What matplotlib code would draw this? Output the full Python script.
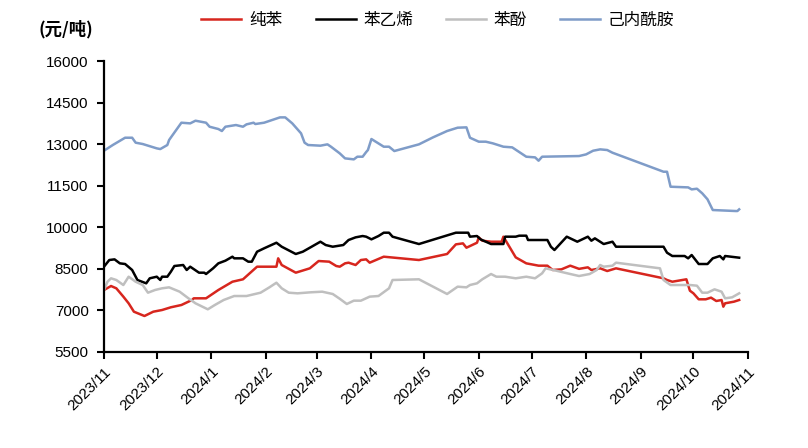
import numpy as np
import pandas as pd
import matplotlib
matplotlib.use('Agg')
import matplotlib.pyplot as plt
import matplotlib.dates as mdates

plt.rcParams['font.family'] = ['Liberation Sans', 'Noto Sans CJK SC', 'DejaVu Sans']

# Data (元/吨)
benzene_dates = ['2023-11-01', '2023-11-05', '2023-11-08', '2023-11-12', '2023-11-15', '2023-11-18',
                 '2023-11-24', '2023-11-29', '2023-12-04', '2023-12-09', '2023-12-15', '2023-12-21',
                 '2023-12-22', '2023-12-29', '2024-01-05', '2024-01-13', '2024-01-19', '2024-01-27',
                 '2024-02-07', '2024-02-08', '2024-02-10', '2024-02-18', '2024-02-26', '2024-03-02',
                 '2024-03-08', '2024-03-12', '2024-03-14', '2024-03-17', '2024-03-19', '2024-03-23',
                 '2024-03-26', '2024-03-29', '2024-03-31', '2024-04-08', '2024-04-28', '2024-05-14',
                 '2024-05-19', '2024-05-23', '2024-05-25', '2024-05-31', '2024-06-01', '2024-06-03',
                 '2024-06-08', '2024-06-14', '2024-06-15', '2024-06-22', '2024-06-28', '2024-07-05',
                 '2024-07-10', '2024-07-13', '2024-07-18', '2024-07-23', '2024-07-28', '2024-08-02',
                 '2024-08-04', '2024-08-09', '2024-08-13', '2024-08-18', '2024-09-14', '2024-09-16',
                 '2024-09-19', '2024-09-27', '2024-09-29', '2024-10-01', '2024-10-04', '2024-10-08',
                 '2024-10-11', '2024-10-14', '2024-10-17', '2024-10-18', '2024-10-19', '2024-10-24',
                 '2024-10-27']
benzene = [7737, 7881, 7798, 7497, 7257, 6954,
           6799, 6954, 7015, 7113, 7196, 7376,
           7437, 7437, 7737, 8036, 8123, 8578,
           8578, 8880, 8639, 8362, 8519, 8783,
           8759, 8603, 8578, 8699, 8723, 8639,
           8819, 8843, 8723, 8939, 8819, 9036,
           9384, 9420, 9263, 9443, 9637, 9516,
           9480, 9480, 9661, 8915, 8699, 8615,
           8615, 8459, 8483, 8615, 8500, 8555,
           8459, 8519, 8422, 8519, 8159, 8098,
           8036, 8123, 7712, 7617, 7401, 7401,
           7461, 7340, 7376, 7135, 7257, 7315,
           7376]

styrene_dates = ['2023-11-01', '2023-11-04', '2023-11-07', '2023-11-10', '2023-11-13', '2023-11-17',
                 '2023-11-20', '2023-11-25', '2023-11-27', '2023-12-01', '2023-12-03', '2023-12-04',
                 '2023-12-07', '2023-12-09', '2023-12-11', '2023-12-16', '2023-12-18', '2023-12-20',
                 '2023-12-25', '2023-12-28', '2023-12-29', '2024-01-02', '2024-01-05', '2024-01-09',
                 '2024-01-13', '2024-01-14', '2024-01-19', '2024-01-22', '2024-01-24', '2024-01-27',
                 '2024-01-31', '2024-02-07', '2024-02-10', '2024-02-18', '2024-02-22', '2024-02-27',
                 '2024-03-03', '2024-03-06', '2024-03-10', '2024-03-16', '2024-03-19', '2024-03-23',
                 '2024-03-27', '2024-03-29', '2024-04-01', '2024-04-05', '2024-04-08', '2024-04-11',
                 '2024-04-13', '2024-04-28', '2024-05-19', '2024-05-26', '2024-05-27', '2024-05-31',
                 '2024-06-02', '2024-06-08', '2024-06-15', '2024-06-16', '2024-06-22', '2024-06-24',
                 '2024-06-28', '2024-06-29', '2024-07-10', '2024-07-12', '2024-07-14', '2024-07-21',
                 '2024-07-27', '2024-08-02', '2024-08-04', '2024-08-06', '2024-08-11', '2024-08-16',
                 '2024-08-18', '2024-09-14', '2024-09-16', '2024-09-19', '2024-09-26', '2024-09-28',
                 '2024-09-30', '2024-10-04', '2024-10-09', '2024-10-12', '2024-10-16', '2024-10-18',
                 '2024-10-19', '2024-10-27']
styrene = [8578, 8819, 8843, 8699, 8675, 8459,
           8098, 7978, 8159, 8217, 8098, 8217,
           8217, 8397, 8603, 8639, 8459, 8578,
           8362, 8362, 8314, 8519, 8699, 8795,
           8939, 8880, 8880, 8759, 8759, 9119,
           9241, 9443, 9299, 9036, 9119, 9299,
           9480, 9360, 9299, 9360, 9541, 9637,
           9685, 9661, 9565, 9685, 9805, 9805,
           9661, 9396, 9805, 9805, 9661, 9685,
           9565, 9396, 9396, 9661, 9661, 9697,
           9697, 9541, 9541, 9299, 9180, 9661,
           9480, 9661, 9516, 9601, 9396, 9480,
           9299, 9299, 9083, 8964, 8964, 8880,
           9000, 8675, 8675, 8880, 8964, 8843,
           8964, 8903]

phenol_dates = ['2023-11-01', '2023-11-03', '2023-11-05', '2023-11-08', '2023-11-12', '2023-11-15',
                '2023-11-19', '2023-11-23', '2023-11-26', '2023-11-30', '2023-12-04', '2023-12-08',
                '2023-12-14', '2023-12-19', '2023-12-23', '2023-12-30', '2024-01-03', '2024-01-08',
                '2024-01-14', '2024-01-21', '2024-01-29', '2024-02-03', '2024-02-07', '2024-02-10',
                '2024-02-14', '2024-02-19', '2024-02-26', '2024-03-04', '2024-03-10', '2024-03-14',
                '2024-03-18', '2024-03-22', '2024-03-26', '2024-03-31', '2024-04-05', '2024-04-11',
                '2024-04-13', '2024-04-28', '2024-05-14', '2024-05-20', '2024-05-25', '2024-05-27',
                '2024-05-31', '2024-06-03', '2024-06-08', '2024-06-11', '2024-06-16', '2024-06-22',
                '2024-06-28', '2024-07-03', '2024-07-07', '2024-07-09', '2024-07-15', '2024-07-23',
                '2024-07-28', '2024-08-03', '2024-08-07', '2024-08-09', '2024-08-11', '2024-08-16',
                '2024-08-18', '2024-09-12', '2024-09-14', '2024-09-18', '2024-09-29', '2024-10-03',
                '2024-10-06', '2024-10-09', '2024-10-13', '2024-10-17', '2024-10-19', '2024-10-23',
                '2024-10-27']
phenol = [7737, 8036, 8159, 8098, 7917, 8217,
          8036, 7917, 7640, 7737, 7798, 7833,
          7676, 7437, 7257, 7040, 7196, 7376,
          7520, 7520, 7640, 7833, 8000, 7798,
          7640, 7617, 7652, 7676, 7593, 7420,
          7232, 7352, 7352, 7497, 7520, 7798,
          8098, 8123, 7593, 7857, 7833, 7917,
          7978, 8123, 8314, 8217, 8217, 8159,
          8217, 8159, 8339, 8519, 8434, 8314,
          8242, 8314, 8459, 8639, 8578, 8615,
          8723, 8519, 8098, 7917, 7917, 7893,
          7640, 7640, 7761, 7676, 7437, 7473,
          7617]

capro_dates = ['2023-11-01', '2023-11-06', '2023-11-13', '2023-11-17', '2023-11-19', '2023-11-23',
               '2023-12-01', '2023-12-03', '2023-12-07', '2023-12-08', '2023-12-10', '2023-12-15',
               '2023-12-20', '2023-12-23', '2023-12-29', '2023-12-31', '2024-01-05', '2024-01-07',
               '2024-01-09', '2024-01-15', '2024-01-19', '2024-01-21', '2024-01-25', '2024-01-26',
               '2024-01-31', '2024-02-09', '2024-02-12', '2024-02-16', '2024-02-21', '2024-02-23',
               '2024-02-25', '2024-03-03', '2024-03-07', '2024-03-09', '2024-03-14', '2024-03-17',
               '2024-03-22', '2024-03-24', '2024-03-27', '2024-03-29', '2024-03-30', '2024-04-01',
               '2024-04-08', '2024-04-11', '2024-04-14', '2024-04-28', '2024-05-06', '2024-05-14',
               '2024-05-20', '2024-05-25', '2024-05-27', '2024-06-01', '2024-06-05', '2024-06-09',
               '2024-06-15', '2024-06-20', '2024-06-28', '2024-07-03', '2024-07-05', '2024-07-07',
               '2024-07-28', '2024-08-01', '2024-08-05', '2024-08-09', '2024-08-13', '2024-08-16',
               '2024-09-14', '2024-09-16', '2024-09-18', '2024-09-28', '2024-09-30', '2024-10-03',
               '2024-10-06', '2024-10-09', '2024-10-12', '2024-10-25', '2024-10-26', '2024-10-27']
capro = [12763, 12969, 13232, 13232, 13053, 13005,
         12848, 12823, 12969, 13149, 13329, 13774,
         13750, 13846, 13774, 13629, 13546, 13474,
         13629, 13690, 13629, 13714, 13774, 13726,
         13774, 13966, 13966, 13750, 13390, 13053,
         12969, 12945, 12993, 12908, 12667, 12487,
         12451, 12547, 12547, 12715, 12788, 13185,
         12908, 12908, 12752, 12993, 13245, 13474,
         13594, 13606, 13232, 13089, 13089, 13029,
         12908, 12884, 12547, 12523, 12403, 12547,
         12571, 12631, 12763, 12812, 12788, 12691,
         12005, 12005, 11464, 11440, 11368, 11392,
         11226, 11010, 10623, 10587, 10587, 10647]

series_names = ['纯苯', '苯乙烯', '苯酚', '己内酰胺']
series_colors = ['#D7261E', '#000000', '#BFBFBF', '#7F9CC8']
month_ticks = pd.date_range('2023-11-01', '2024-11-01', freq='MS')
y_ticks = [5500, 7000, 8500, 10000, 11500, 13000, 14500, 16000]

fig = plt.figure(figsize=(8.08, 4.48), dpi=100)
ax = fig.add_axes([0.1287, 0.2143, 0.7970, 0.6495])

all_data = [(benzene_dates, benzene), (styrene_dates, styrene),
            (phenol_dates, phenol), (capro_dates, capro)]
for (d, v), name, c in zip(all_data, series_names, series_colors):
    ax.plot(pd.to_datetime(d), v, color=c, lw=1.8, label=name)

ax.set_xlim(month_ticks[0], month_ticks[-1])
ax.set_ylim(5500, 16000)
ax.set_yticks(y_ticks)
ax.set_xticks(month_ticks)
ax.set_xticklabels([f'{t.year}/{t.month}' for t in month_ticks], rotation=45,
                   ha='right', rotation_mode='anchor')
ax.tick_params(axis='both', labelsize=11, width=1.5, length=5, color='black')
ax.tick_params(axis='x', pad=4)
ax.tick_params(axis='y', pad=6)

for s in ['top', 'right']:
    ax.spines[s].set_visible(False)
for s in ['left', 'bottom']:
    ax.spines[s].set_linewidth(1.6)
    ax.spines[s].set_color('black')

fig.text(0.048, 0.935, '(元/吨)', fontsize=12.5, fontweight='bold',
         family=['Noto Sans CJK SC', 'DejaVu Sans'], va='center')

leg = fig.legend(loc='center', bbox_to_anchor=(0.542, 0.955), ncol=4, frameon=False,
                 prop={'family': ['Noto Sans CJK SC', 'DejaVu Sans'], 'size': 12},
                 handlelength=2.4, handletextpad=0.45, columnspacing=2.0)

fig.savefig('out.png', dpi=100)
